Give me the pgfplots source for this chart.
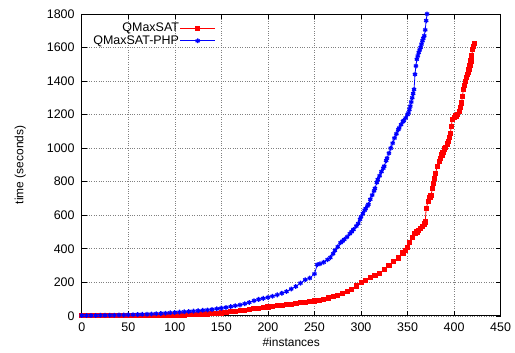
\documentclass[border=0pt]{standalone}
\usepackage{fontspec}
\setmainfont{Liberation Sans}
\usepackage{pgfplots}
\pgfplotsset{compat=1.18}
\begin{document}
\fontsize{12}{14}\selectfont
\begin{tikzpicture}
\path (0,0) rectangle (515pt,353pt);
\begin{axis}[
  at={(82pt,36.3pt)}, anchor=south west,
  scale only axis, width=420pt, height=302.7pt,
  xmin=0, xmax=450, ymin=0, ymax=1800,
  xtick={0,50,...,450}, ytick={0,200,...,1800},
  /pgf/number format/assume math mode=true,
  /pgf/number format/set thousands separator={},
  tick label style={font=\fontsize{12.5}{14}\selectfont},
  label style={font=\fontsize{12}{14}\selectfont},
  xlabel={\#instances}, ylabel={time (seconds)},
  xlabel style={at={(0.5,0)}, anchor=north, yshift=-18pt},
  ylabel style={at={(0,0.5)}, anchor=south, yshift=52pt},
  tick align=inside, major tick length=5pt,
  axis line style={line width=0.9pt},
  every tick/.style={black, line width=0.6pt},
  grid=major, major grid style={dotted, line width=0.6pt, gray},
  xticklabel style={yshift=-3pt}, yticklabel style={xshift=-3pt},
  legend plot pos=right, legend cell align=right,
  legend style={draw=none, fill=none, at={(0.327,0.98)}, anchor=north east,
    font=\fontsize{12.5}{14}\selectfont, row sep=0.5pt,
    nodes={inner sep=0.8pt}},
  legend image code/.code={\draw[mark repeat=2,mark phase=2,#1] plot coordinates {(0pt,0pt)(17.5pt,0pt)(35pt,0pt)};},
]
\addplot[red, line width=0.8pt, mark=square*, mark size=2.1pt, mark options={solid}] coordinates {
(0,1)(5,1)(10,1)(15,1)(20,1)(25,1)(30,1)(35,2)(40,2)(45,2)(50,2)(55,2)(60,2)(65,3)(70,3)(75,3)(80,3)(85,4)(90,4)(95,5)(100,5)(105,6)(110,6)(115,7)(120,8)(125,9)(130,11)(135,12)(140,14)(145,16)(150,18)(155,21)(160,24)(165,27)(170,30)(175,34)(180,38)(185,42)(190,46)(195,50)(200,53)(205,57)(210,60)(215,63)(220,67)(225,70)(230,74)(235,78)(240,81)(245,85)(250,89)(255,94)(260,100)(265,107)(270,115)(275,123)(280,132)(285,144)(290,158)(295,178)(300,198)(305,212)(310,228)(315,243)(320,255)(325,275)(330,300)(335,325)(340,345)(345,375)(348,392)(350,410)(352,440)(355,470)(358,490)(360,500)(362,510)(364,522)(366,535)(368,548)(369,560)(370,640)(372,680)(374,705)(375,720)(377,760)(378,790)(379,820)(380,850)(382,890)(384,920)(385,940)(387,960)(388,975)(390,995)(391,1005)(393,1025)(394,1040)(395,1065)(396,1090)(397,1130)(398,1170)(400,1185)(402,1192)(404,1200)(406,1220)(407,1245)(408,1270)(409,1310)(410,1350)(411,1375)(412,1400)(413,1420)(414,1440)(415,1455)(416,1470)(417,1495)(418,1520)(419,1555)(420,1590)(421,1608)(422,1625)
};
\addlegendentry{QMaxSAT}
\addplot[blue, line width=0.8pt, mark=asterisk, mark size=2.4pt, mark options={solid, line width=1.3pt}] coordinates {
(0,2)(5,2)(10,2)(15,2)(20,3)(25,3)(30,4)(35,4)(40,5)(45,5)(50,6)(55,7)(60,8)(65,9)(70,10)(75,11)(80,13)(85,14)(90,16)(95,18)(100,20)(105,22)(110,24)(115,26)(120,28)(125,30)(130,33)(135,35)(140,38)(145,42)(150,46)(155,50)(160,55)(165,60)(170,65)(175,72)(180,80)(185,90)(190,98)(195,104)(200,110)(205,117)(210,125)(215,135)(220,145)(225,160)(230,175)(235,195)(240,215)(245,225)(250,250)(253,305)(256,310)(260,320)(264,335)(267,347)(270,370)(272,390)(275,412)(278,436)(280,445)(282,455)(285,470)(288,490)(290,502)(292,515)(295,535)(297,550)(299,575)(300,590)(302,610)(304,630)(305,640)(307,655)(308,665)(310,694)(312,720)(314,745)(315,760)(317,795)(318,813)(320,835)(322,860)(324,880)(325,892)(327,925)(328,940)(330,970)(332,1000)(334,1030)(336,1060)(338,1085)(340,1110)(341,1120)(343,1140)(345,1158)(346,1165)(348,1180)(350,1200)(351,1210)(352,1230)(353,1250)(354,1275)(355,1300)(356,1325)(357,1350)(358,1440)(359,1490)(360,1530)(361,1550)(362,1570)(363,1585)(364,1600)(365,1620)(366,1640)(367,1655)(368,1670)(369,1705)(370,1760)(371,1800)(372,1830)
};
\addlegendentry{QMaxSAT-PHP}
\end{axis}
\end{tikzpicture}
\end{document}
